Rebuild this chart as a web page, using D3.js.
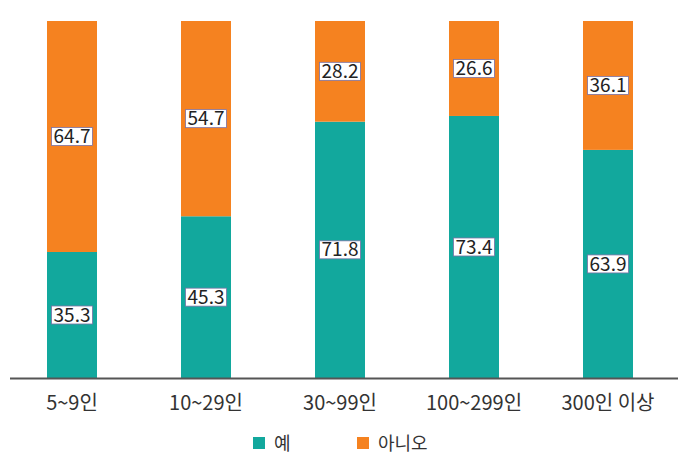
<!DOCTYPE html>
<html>
<head>
<meta charset="utf-8">
<script src="https://cdn.jsdelivr.net/npm/d3@7"></script>
<style>
  body { margin: 0; background: #fff; }
  text { font-family: "Liberation Sans Narrow", "Noto Sans CJK KR", sans-serif; }
</style>
</head>
<body>
<svg id="chart" width="685" height="456"></svg>
<script>
// data
var categories = ["5~9인", "10~29인", "30~99인", "100~299인", "300인 이상"];
var yes = [35.3, 45.3, 71.8, 73.4, 63.9];
var no = [64.7, 54.7, 28.2, 26.6, 36.1];
var seriesNames = ["예", "아니오"];
var colors = ["#12a89d", "#f58220"];

var svg = d3.select("#chart");
var baseY = 378, topY = 21;

var x = d3.scaleBand().domain(categories).range([5, 675]).paddingInner(0).paddingOuter(0);
var y = d3.scaleLinear().domain([0, 100]).range([baseY, topY]);
var barW = 50;

var rows = categories.map(function (c, i) { return { cat: c, yes: yes[i], no: no[i] }; });
var stack = d3.stack().keys(["yes", "no"])(rows);

var g = svg.append("g");
stack.forEach(function (layer, li) {
  g.selectAll("rect.s" + li)
    .data(layer)
    .enter()
    .append("rect")
    .attr("x", function (d) { return x(d.data.cat) + x.bandwidth() / 2 - barW / 2; })
    .attr("y", function (d) { return y(d[1]); })
    .attr("width", barW)
    .attr("height", function (d) { return y(d[0]) - y(d[1]); })
    .style("fill", colors[li]);
});

// labels in white boxes
stack.forEach(function (layer, li) {
  layer.forEach(function (d) {
    var cx = x(d.data.cat) + x.bandwidth() / 2;
    var cy = (y(d[0]) + y(d[1])) / 2;
    var val = li == 0 ? d.data.yes : d.data.no;
    var lg = g.append("g").attr("transform", "translate(" + cx + "," + cy + ")");
    var t = lg.append("text")
      .text(val.toFixed(1))
      .attr("text-anchor", "middle")
      .attr("dy", "0.35em")
      .attr("font-size", 19)
      .attr("fill", "#222");
    var bb = t.node().getBBox();
    lg.insert("rect", "text")
      .attr("x", bb.x - 2)
      .attr("y", -9)
      .attr("width", bb.width + 4)
      .attr("height", 18)
      .attr("fill", "#fff")
      .attr("stroke", "#7b72a6")
      .attr("stroke-width", 0.8);
  });
});

// x axis
svg.append("line")
  .attr("x1", 10).attr("x2", 678)
  .attr("y1", baseY + 0.5).attr("y2", baseY + 0.5)
  .attr("stroke", "#555").attr("stroke-width", 2);

svg.selectAll("text.tick")
  .data(categories)
  .enter()
  .append("text")
  .attr("class", "tick")
  .attr("x", function (d) { return x(d) + x.bandwidth() / 2; })
  .attr("y", 410)
  .attr("text-anchor", "middle")
  .attr("font-size", 20)
  .attr("fill", "#333")
  .style("font-family", "'Noto Sans CJK KR', sans-serif")
  .text(function (d) { return d; });

// legend
var legendX = [253, 357];
seriesNames.forEach(function (name, i) {
  svg.append("rect")
    .attr("x", legendX[i]).attr("y", 437)
    .attr("width", 12).attr("height", 12)
    .attr("fill", colors[i]);
  svg.append("text")
    .attr("x", legendX[i] + 21).attr("y", 442)
    .attr("dominant-baseline", "central")
    .attr("font-size", 18)
    .attr("fill", "#333")
    .style("font-family", "'Noto Sans CJK KR', sans-serif")
    .text(name);
});
</script>
</body>
</html>
